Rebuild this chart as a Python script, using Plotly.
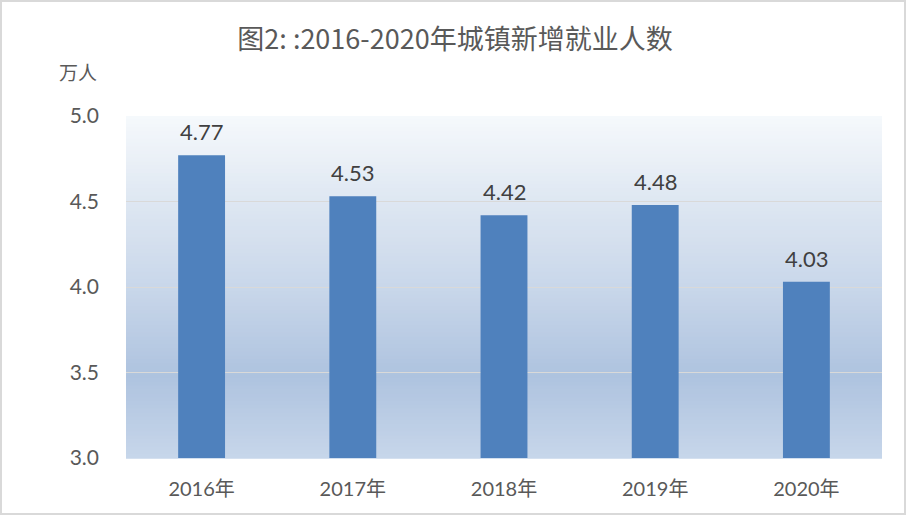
import plotly.graph_objects as go

categories = ["2016年", "2017年", "2018年", "2019年", "2020年"]
values = [4.77, 4.53, 4.42, 4.48, 4.03]
y_ticks = [3.0, 3.5, 4.0, 4.5, 5.0]
y_tick_text = ["3.0", "3.5", "4.0", "4.5", "5.0"]

W, H = 907, 516
L, R, T, B = 126, 25, 116, 58
pw, ph = W - L - R, H - T - B

fig = go.Figure()
fig.add_trace(go.Bar(
    x=categories, y=values, width=0.31,
    marker=dict(color="#4f81bd", line=dict(width=0)),
    hoverinfo="x+y",
))

# gradient background for the plot area
stops = [(0.0, (246, 249, 252)), (0.25, (222, 231, 242)), (0.5, (201, 215, 234)),
         (0.76, (174, 195, 223)), (1.0, (199, 214, 234))]

def col(f):
    for (a, ca), (b, cb) in zip(stops[:-1], stops[1:]):
        if a <= f <= b:
            t = (f - a) / (b - a)
            c = [round(ca[i] + (cb[i] - ca[i]) * t) for i in range(3)]
            return "rgb(%d,%d,%d)" % tuple(c)
    return "rgb(199,214,234)"

shapes = []
N = 90
for i in range(N):
    f0 = i / N
    f1 = (i + 1) / N
    shapes.append(dict(type="rect", xref="paper", yref="paper",
                       x0=0, x1=1, y0=1 - f1 - 0.002, y1=1 - f0,
                       fillcolor=col((f0 + f1) / 2), line=dict(width=0), layer="below"))
# outer border
shapes.append(dict(type="rect", xref="paper", yref="paper",
                   x0=(1 - L) / pw, x1=(W - 2 - L) / pw,
                   y0=-(H - 2 - T - ph) / ph, y1=1 + (T - 1) / ph,
                   line=dict(color="#d9d9d9", width=2), fillcolor="rgba(0,0,0,0)", layer="above"))

annotations = []
for c, v in zip(categories, values):
    annotations.append(dict(x=c, y=v, text="%.2f" % v, showarrow=False,
                            yanchor="bottom", yshift=8,
                            font=dict(family="Lato, Noto Sans CJK SC", size=22, color="#404040")))
annotations.append(dict(xref="paper", yref="paper", x=(78 - L) / pw, y=1 + (T - 72) / ph,
                        text="万人", showarrow=False, xanchor="center", yanchor="middle",
                        font=dict(family="Noto Sans CJK SC", size=19, color="#595959")))

fig.update_layout(
    width=W, height=H,
    margin=dict(l=L, r=R, t=T, b=B),
    paper_bgcolor="white", plot_bgcolor="rgba(0,0,0,0)",
    title=dict(text="图2: :2016-2020年城镇新增就业人数", x=455 / W, xanchor="center",
               y=1 - 40 / H, yanchor="middle",
               font=dict(family="Noto Sans CJK SC", size=27, color="#595959")),
    shapes=shapes, annotations=annotations,
    showlegend=False, bargap=0.69,
)
fig.update_xaxes(showgrid=False, showline=False, zeroline=False,
                 tickfont=dict(family="Lato, Noto Sans CJK SC", size=20, color="#595959"),
                 ticklabelstandoff=17)
fig.update_yaxes(range=[3.0, 5.0], tickvals=y_ticks, ticktext=y_tick_text,
                 showgrid=True, gridcolor="#d9d9d9", gridwidth=1, zeroline=False,
                 showline=False,
                 tickfont=dict(family="Lato, Noto Sans CJK SC", size=21, color="#595959"),
                 ticklabelstandoff=26)

fig.write_html("out.html", config={"displayModeBar": False},
               post_script="document.body.style.margin='0';document.body.style.padding='0';")
